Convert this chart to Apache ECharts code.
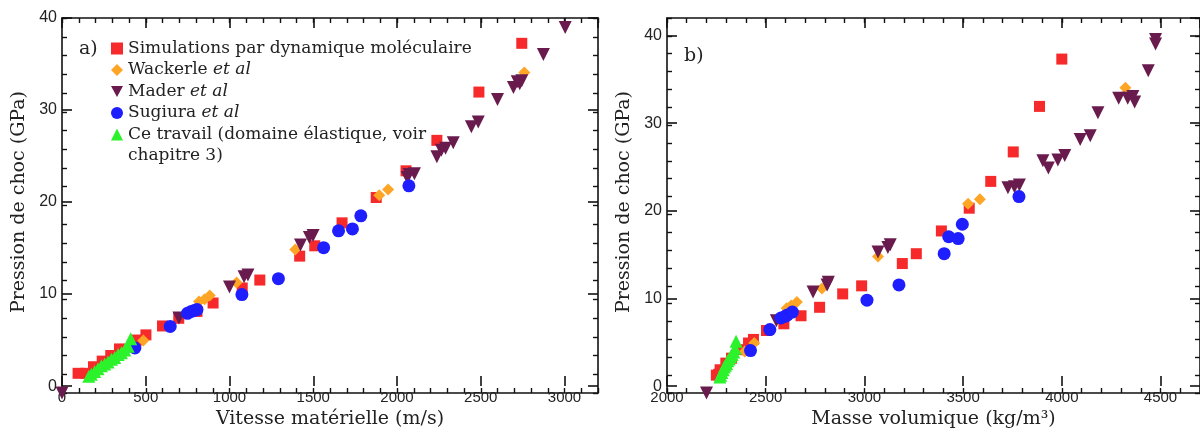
<!DOCTYPE html>
<html>
<head>
<meta charset="utf-8">
<script src="https://cdn.jsdelivr.net/npm/echarts@6/dist/echarts.min.js"></script>
<style>
html,body{margin:0;padding:0;background:#fff;}
#c{width:1200px;height:434px;}
</style>
</head>
<body>
<div id="c"></div>
<script>
// ---- Names ----
const seriesNames = [
  'Simulations par dynamique moléculaire',
  'Wackerle et al',
  'Mader et al',
  'Sugiura et al',
  'Ce travail (domaine élastique, voir chapitre 3)'
];

// ---- Panel a) : material velocity (m/s) vs shock pressure (GPa) ----
const simU = [96,142,188,240,291,343,447,501,600,697,806,902,1076,1181,1419,1509,1672,1876,2054,2238,2489,2745];
const simP = [2.1,2.1,2.8,3.4,4.0,4.7,5.65,6.2,7.15,7.97,8.7,9.6,11.2,12.05,14.6,15.7,18.15,20.85,23.7,26.95,32.1,37.3];

const wacU = [383,486,818,852,882,1042,1393,1894,1947,2760];
const wacP = [4.6,5.6,9.75,10.0,10.4,11.8,15.3,21.1,21.7,34.2];

const madU = [0,698,1000,1087,1110,1424,1477,1499,2061,2072,2104,2238,2265,2290,2336,2444,2485,2600,2695,2718,2733,2745,2874,3004];
const madP = [0,8.0,11.3,12.4,12.6,15.8,16.6,16.8,23.0,23.3,23.4,25.2,25.9,26.1,26.7,28.4,28.9,31.3,32.6,33.2,33.0,33.3,36.1,39.0];

const sugU = [435,646,749,772,790,806,1074,1292,1562,1651,1734,1784,2071];
const sugP = [4.8,7.1,8.5,8.7,8.8,8.9,10.5,12.2,15.5,17.3,17.5,18.9,22.1];

const ceU = [160,175,195,215,235,255,275,295,315,335,355,375,395,410];
const ceP = [1.8,2.0,2.3,2.6,2.9,3.1,3.3,3.6,3.8,4.1,4.3,4.6,5.0,5.8];

// ---- Panel b) : density (kg/m3) vs shock pressure (GPa) ----
const simRho = [2250,2262,2269,2298,2327,2365,2413,2438,2504,2592,2679,2773,2890,2986,3192,3263,3390,3531,3640,3754,3887,4000];
const simRP  = [2.0,2.1,2.6,3.35,3.9,4.85,5.6,6.0,7.0,7.75,8.65,9.6,11.1,12.0,14.5,15.6,18.15,20.7,23.7,27.0,32.1,37.4];

const wacRho = [2394,2442,2606,2629,2658,2785,3069,3525,3585,4322];
const wacRP  = [4.65,5.6,9.5,9.8,10.2,11.7,15.3,21.2,21.7,34.2];

const madRho = [2200,2554,2740,2811,2817,3069,3119,3131,3727,3760,3785,3904,3932,3980,4015,4093,4144,4183,4288,4334,4360,4369,4438,4475,4475];
const madRP  = [0,8.1,11.3,12.1,12.4,15.8,16.3,16.6,23.0,23.1,23.3,26.0,25.2,26.1,26.6,28.4,28.8,31.4,33.0,33.0,33.2,32.6,36.1,39.1,39.6];

const sugRho = [2423,2521,2577,2600,2610,2635,3013,3175,3404,3427,3475,3496,3783];
const sugRP  = [4.75,7.1,8.4,8.6,8.75,9.06,10.4,12.1,15.6,17.5,17.3,18.9,22.0];

const ceRho = [2268,2272,2278,2285,2290,2296,2302,2308,2315,2322,2330,2338,2345,2350];
const ceRP  = [1.8,2.0,2.3,2.6,2.9,3.1,3.3,3.6,3.8,4.1,4.3,4.6,5.0,5.8];

// ---- Tick settings ----
const xTicksA = {min:0, max:3200, major:500, minor:100};
const xTicksB = {min:2000, max:4700, major:500, minor:100};
const yTicksA = {min:0, max:40, major:10, minor:2};
const yTicksB = {min:0, max:42, major:10, minor:2};

const zip = (a,b) => a.map((v,i)=>[v,b[i]]);

const colors = ['#f62a2a','#ffa526','#6a1b4d','#1e1eff','#2cf22c'];
const symbols = ['rect','diamond','path://M0,0L10,0L5,9Z','circle','triangle'];
const sizes = [11,12,13,13,13];

const serif = 'DejaVu Serif';
const sans = 'Liberation Sans';

function minorAxis(kind, pos, grid, t){
  return {
    type:'value', gridIndex:grid, position:pos, min:t.min, max:t.max, interval:t.minor,
    axisLine:{show:true, onZero:false, lineStyle:{color:'#111', width:1.6}},
    axisTick:{show:true, inside:true, length:5, lineStyle:{color:'#111', width:1.4}},
    axisLabel:{show:false}, splitLine:{show:false}
  };
}
function majorAxis(kind, pos, grid, t, withLabel, name, nameGap){
  const ax = {
    type:'value', gridIndex:grid, position:pos, min:t.min, max:t.max, interval:t.major,
    axisLine:{show:false, onZero:false},
    axisTick:{show:true, inside:true, length:10, lineStyle:{color:'#111', width:1.6}},
    axisLabel:{show:withLabel, margin:kind==='x'?4:5, fontFamily:sans,
      fontSize:kind==='x'?15:16, color:'#222',
      showMaxLabel: (t.max % t.major === 0),
      formatter:function(v){ return String(v); }},
    splitLine:{show:false}
  };
  if (name){
    ax.name = name; ax.nameLocation='middle'; ax.nameGap = nameGap;
    ax.nameTextStyle = {fontFamily:serif, fontSize:19, color:'#222'};
  }
  return ax;
}

const gridA = {left:62, top:18, width:536, height:375};
const gridB = {left:667, top:18, width:535, height:375};

const option = {
  backgroundColor:'#fff',
  animation:false,
  grid:[gridA, gridB, Object.assign({},gridA), Object.assign({},gridB)],
  xAxis:[
    minorAxis('x','bottom',0,xTicksA),
    minorAxis('x','top',0,xTicksA),
    minorAxis('x','bottom',1,xTicksB),
    minorAxis('x','top',1,xTicksB),
    majorAxis('x','bottom',2,xTicksA,true,'Vitesse matérielle (m/s)',17),
    majorAxis('x','top',2,xTicksA,false),
    majorAxis('x','bottom',3,xTicksB,true,'Masse volumique (kg/m³)',17),
    majorAxis('x','top',3,xTicksB,false)
  ],
  yAxis:[
    minorAxis('y','left',0,yTicksA),
    minorAxis('y','right',0,yTicksA),
    minorAxis('y','left',1,yTicksB),
    minorAxis('y','right',1,yTicksB),
    majorAxis('y','left',2,yTicksA,true,'Pression de choc (GPa)',33),
    majorAxis('y','right',2,yTicksA,false),
    majorAxis('y','left',3,yTicksB,true,'Pression de choc (GPa)',33),
    majorAxis('y','right',3,yTicksB,false)
  ],
  title:[
    {text:'a)', left:74, top:35, textStyle:{fontFamily:serif, fontSize:19, fontWeight:'normal', color:'#222'}},
    {text:'b)', left:679, top:42, textStyle:{fontFamily:serif, fontSize:19, fontWeight:'normal', color:'#222'}}
  ],
  legend:{
    orient:'vertical', left:106, top:35, itemWidth:12, itemHeight:12, itemGap:4.5,
    data:seriesNames,
    textStyle:{fontFamily:serif, fontSize:17, color:'#222', lineHeight:17,
      rich:{
        n:{fontFamily:serif, fontSize:17, color:'#222', lineHeight:17},
        i:{fontFamily:serif, fontSize:17, color:'#222', lineHeight:17, fontStyle:'italic'}
      }},
    formatter:function(name){
      if (/ et al$/.test(name)) return '{n|'+name.replace(/ et al$/,' ')+'}{i|et al}';
      if (name.indexOf('Ce travail')===0) return '{n|Ce travail (domaine élastique, voir}';
      return '{n|'+name+'}';
    }
  },
  graphic:[
    {type:'text', left:128, top:147, style:{text:'chapitre 3)', fontFamily:serif, fontSize:17, fill:'#222'}}
  ],
  series:[]
};

const leftData = [zip(simU,simP), zip(wacU,wacP), zip(madU,madP), zip(sugU,sugP), zip(ceU,ceP)];
const rightData = [zip(simRho,simRP), zip(wacRho,wacRP), zip(madRho,madRP), zip(sugRho,sugRP), zip(ceRho,ceRP)];

seriesNames.forEach((nm,i)=>{
  [[leftData[i],0],[rightData[i],2]].forEach(([d,ax])=>{
    option.series.push({
      name:nm, type:'scatter', xAxisIndex:ax, yAxisIndex:ax,
      symbol:symbols[i], symbolSize:sizes[i], data:d,
      itemStyle:{color:colors[i], opacity:1}, z: 2+i
    });
  });
});

const chart = echarts.init(document.getElementById('c'), null, {renderer:'canvas'});
chart.setOption(option);
</script>
</body>
</html>
